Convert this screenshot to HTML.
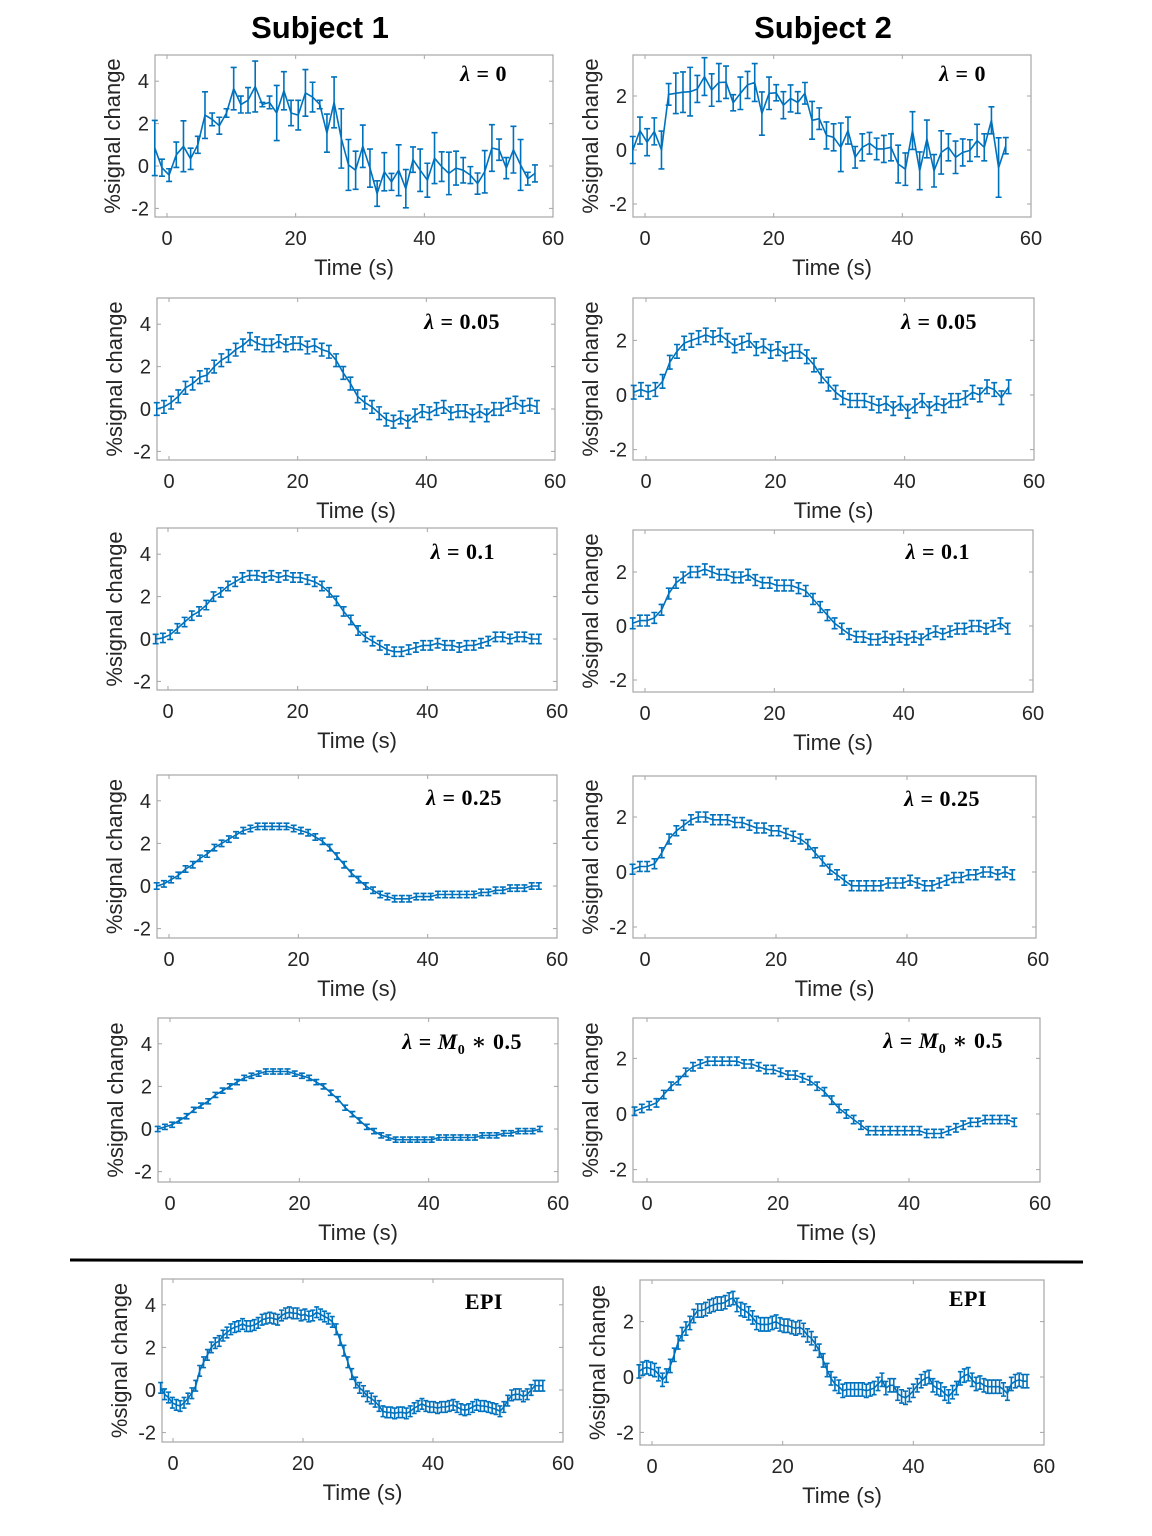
<!DOCTYPE html>
<html><head><meta charset="utf-8">
<style>
html,body{margin:0;padding:0;background:#fff;}
svg{display:block;}
text{font-family:"Liberation Sans",Arial,sans-serif;fill:#262626;}
.title{font-weight:bold;font-size:31px;fill:#000;}
.tick{font-size:20px;}
.xl{font-size:22px;}
.lam{font-family:"Liberation Serif","DejaVu Serif",serif;font-weight:bold;font-size:22px;fill:#000;letter-spacing:0.5px;}
</style></head>
<body>
<svg id="fig" width="1152" height="1536" viewBox="0 0 1152 1536">
<text class="title" x="320" y="38" text-anchor="middle">Subject 1</text>
<text class="title" x="823" y="38" text-anchor="middle">Subject 2</text>
<line x1="70" y1="1260" x2="1083" y2="1262" stroke="#000" stroke-width="3"/>
</svg>
<script>
// ---- data ----
const T0 = -1.9, DT = 1.115;
const epiT0L = -1.9, epiT0R = -2.0, epiDT = 0.6;
const lam0L = [0.85,-0.08,-0.43,0.53,0.93,0.34,1.0,2.4,2.2,1.9,2.5,3.65,2.9,3.1,3.75,2.9,3.0,2.5,3.55,2.5,2.4,3.45,3.25,2.9,1.55,3.0,1.3,0.05,-0.2,0.93,-0.1,-1.3,-0.27,-0.75,-0.2,-1.07,0.3,-0.2,-0.67,0.37,-0.03,-0.35,-0.1,-0.2,-0.43,-0.83,-0.27,0.85,0.77,-0.1,0.77,0.05,-0.6,-0.35];
const lam0LErr = [1.3,0.4,0.3,0.6,1.2,0.5,0.4,1.1,0.3,0.4,0.2,1.0,0.4,0.6,1.2,0.1,0.3,1.3,0.9,0.6,0.7,1.1,0.7,0.2,0.9,1.2,1.4,1.2,0.9,1.0,0.9,0.6,0.9,0.4,1.2,0.9,0.6,1.0,0.8,1.2,0.7,1.0,0.8,0.6,0.4,0.5,1.0,1.1,0.5,0.5,1.1,1.2,0.3,0.4];
const lam0R = [0,0.72,0.29,0.69,0,2.06,2.1,2.14,2.16,2.26,2.72,2.22,2.5,2.51,1.75,2.1,2.41,2.5,1.35,2.1,2.12,1.66,1.91,1.76,2.1,1.1,1.16,0.54,0.47,0.1,0.72,-0.27,0.1,0.25,0.04,0.04,0.1,-0.52,-0.71,0.72,-0.77,0.41,-0.77,-0.09,0.1,-0.27,-0.09,-0.02,0.35,0.1,1.1,-0.65,0.16];
const lam0RErr = [0.5,0.5,0.5,0.5,0.7,0.4,0.75,0.75,0.9,0.5,0.7,0.6,0.7,0.6,0.3,0.6,0.5,0.7,0.8,0.6,0.3,0.5,0.5,0.4,0.4,0.7,0.4,0.5,0.5,0.9,0.5,0.4,0.5,0.4,0.4,0.5,0.5,0.7,0.6,0.7,0.7,0.7,0.6,0.8,0.5,0.6,0.5,0.4,0.6,0.5,0.5,1.1,0.3];
const lam005L = [0.0,0.1,0.3,0.6,1.0,1.2,1.5,1.6,2.0,2.3,2.5,2.8,3.0,3.3,3.1,3.0,3.0,3.2,3.0,3.1,3.1,2.9,3.0,2.8,2.7,2.3,1.7,1.2,0.6,0.3,0.1,-0.2,-0.5,-0.6,-0.4,-0.6,-0.3,-0.1,-0.2,0.0,0.1,-0.2,-0.1,-0.1,-0.3,-0.1,-0.3,0.0,0.0,0.2,0.3,0.1,0.2,0.1];
const lam005R = [0.1,0.2,0.1,0.2,0.5,1.2,1.6,1.9,2.0,2.1,2.2,2.1,2.2,2.0,1.8,1.9,2.0,1.7,1.8,1.6,1.7,1.5,1.6,1.6,1.4,1.1,0.7,0.4,0.1,-0.1,-0.2,-0.2,-0.2,-0.3,-0.4,-0.3,-0.5,-0.3,-0.6,-0.4,-0.2,-0.5,-0.3,-0.4,-0.2,-0.2,-0.1,0.1,0.0,0.3,0.2,-0.1,0.3];
const lam01L = [0,0.05,0.2,0.5,0.8,1.1,1.3,1.6,2.0,2.2,2.5,2.7,2.9,3.0,3.0,2.9,3.0,2.9,3.0,2.9,2.9,2.8,2.7,2.5,2.2,1.8,1.3,0.9,0.4,0.1,-0.1,-0.3,-0.5,-0.6,-0.6,-0.5,-0.4,-0.3,-0.3,-0.2,-0.3,-0.3,-0.4,-0.3,-0.3,-0.2,-0.1,0.1,0.1,0.0,0.1,0.1,0.0,0.0];
const lam01R = [0.1,0.2,0.2,0.3,0.6,1.2,1.6,1.8,2.0,2.0,2.1,2.0,1.9,1.9,1.8,1.8,1.9,1.7,1.6,1.6,1.5,1.5,1.5,1.4,1.3,1.0,0.7,0.4,0.1,-0.1,-0.3,-0.4,-0.4,-0.5,-0.5,-0.4,-0.5,-0.4,-0.5,-0.4,-0.5,-0.3,-0.2,-0.3,-0.2,-0.1,-0.1,0.0,0.0,-0.1,0.0,0.1,-0.1];
const lam025L = [0,0.1,0.3,0.5,0.8,1.0,1.3,1.5,1.8,2.0,2.2,2.4,2.6,2.7,2.8,2.8,2.8,2.8,2.8,2.7,2.6,2.5,2.3,2.1,1.8,1.4,1.0,0.6,0.3,0.0,-0.2,-0.4,-0.5,-0.6,-0.6,-0.6,-0.5,-0.5,-0.5,-0.4,-0.4,-0.4,-0.4,-0.4,-0.4,-0.3,-0.3,-0.2,-0.2,-0.1,-0.1,-0.1,0.0,0.0];
const lam025R = [0.1,0.2,0.2,0.3,0.7,1.2,1.5,1.7,1.9,2.0,2.0,1.9,1.9,1.9,1.8,1.8,1.7,1.6,1.6,1.5,1.5,1.4,1.3,1.2,1.0,0.7,0.4,0.1,-0.1,-0.3,-0.5,-0.5,-0.5,-0.5,-0.5,-0.4,-0.4,-0.4,-0.3,-0.4,-0.5,-0.5,-0.4,-0.3,-0.2,-0.2,-0.1,-0.1,0.0,0.0,-0.1,0.0,-0.1];
const lamM0L = [0,0.1,0.2,0.4,0.6,0.9,1.1,1.3,1.6,1.8,2.0,2.2,2.4,2.5,2.6,2.7,2.7,2.7,2.7,2.6,2.5,2.4,2.2,2.0,1.7,1.4,1.0,0.7,0.4,0.1,-0.1,-0.3,-0.4,-0.5,-0.5,-0.5,-0.5,-0.5,-0.5,-0.4,-0.4,-0.4,-0.4,-0.4,-0.4,-0.3,-0.3,-0.3,-0.2,-0.2,-0.1,-0.1,-0.1,0.0];
const lamM0R = [0.1,0.2,0.3,0.4,0.7,1.0,1.2,1.5,1.7,1.8,1.9,1.9,1.9,1.9,1.9,1.8,1.8,1.7,1.6,1.6,1.5,1.4,1.4,1.3,1.2,1.0,0.8,0.5,0.2,0.0,-0.2,-0.4,-0.6,-0.6,-0.6,-0.6,-0.6,-0.6,-0.6,-0.6,-0.7,-0.7,-0.7,-0.6,-0.5,-0.4,-0.3,-0.3,-0.2,-0.2,-0.2,-0.2,-0.3];
const epiL = [0.1,-0.2,-0.35,-0.6,-0.7,-0.75,-0.6,-0.4,-0.15,0.2,0.9,1.3,1.65,2.0,2.2,2.3,2.55,2.7,2.85,2.95,3.0,3.1,3.0,3.0,3.05,3.15,3.3,3.35,3.4,3.35,3.3,3.5,3.6,3.65,3.6,3.6,3.5,3.55,3.45,3.5,3.65,3.55,3.45,3.35,3.2,2.85,2.35,1.85,1.3,0.75,0.35,0.1,-0.05,-0.3,-0.4,-0.55,-0.75,-1.0,-1.05,-1.05,-1.1,-1.05,-1.05,-1.1,-1.0,-0.85,-0.75,-0.65,-0.75,-0.8,-0.8,-0.85,-0.8,-0.8,-0.75,-0.7,-0.8,-0.9,-0.95,-0.9,-0.8,-0.7,-0.75,-0.75,-0.8,-0.85,-0.9,-1.0,-0.8,-0.5,-0.25,-0.2,-0.2,-0.3,-0.2,0.0,0.2,0.2,0.2];
const epiR = [0.2,0.3,0.35,0.3,0.25,0.1,-0.1,0.05,0.4,0.8,1.25,1.55,1.75,1.95,2.2,2.4,2.4,2.45,2.55,2.6,2.65,2.65,2.7,2.8,2.85,2.6,2.45,2.4,2.3,2.15,1.95,1.9,1.9,1.9,1.95,2.0,1.9,1.85,1.85,1.8,1.75,1.8,1.7,1.5,1.4,1.2,0.95,0.6,0.25,-0.05,-0.25,-0.35,-0.5,-0.45,-0.45,-0.45,-0.45,-0.45,-0.5,-0.45,-0.4,-0.25,-0.1,-0.4,-0.3,-0.3,-0.6,-0.7,-0.75,-0.65,-0.5,-0.3,-0.15,-0.05,0,-0.3,-0.4,-0.45,-0.6,-0.7,-0.55,-0.4,-0.05,0.05,0.1,-0.1,-0.25,-0.2,-0.3,-0.35,-0.35,-0.35,-0.35,-0.45,-0.6,-0.25,-0.15,-0.1,-0.15,-0.15];
const errScalar = {l005L:0.3,l005R:0.25,l01L:0.22,l01R:0.2,l025L:0.15,l025R:0.18,m0L:0.12,m0R:0.15,epiL:0.25,epiR:0.24};
const xTicks = [0,20,40,60];
const yTicksL = [-2,0,2,4];
const yTicksR = [-2,0,2];

// ---- layout ----
const panels = [
 {id:'p1l',vals:lam0L,err:lam0LErr,t0:T0,dt:DT,box:[155,55,553,217],x0:167,x60:553,y0:166,yu:21.2,yt:yTicksL,lab:'0',lx:507,ly:81},
 {id:'p1r',vals:lam0R,err:lam0RErr,t0:T0,dt:DT,box:[633,55,1031,217],x0:645,x60:1031,y0:150,yu:27,yt:yTicksR,lab:'0',lx:986,ly:81},
 {id:'p2l',vals:lam005L,err:errScalar.l005L,t0:T0,dt:DT,box:[157,298,555,460],x0:169,x60:555,y0:409,yu:21.2,yt:yTicksL,lab:'0.05',lx:500,ly:329},
 {id:'p2r',vals:lam005R,err:errScalar.l005R,t0:T0,dt:DT,box:[633,298,1034,460],x0:646,x60:1034,y0:395,yu:27.3,yt:yTicksR,lab:'0.05',lx:977,ly:329},
 {id:'p3l',vals:lam01L,err:errScalar.l01L,t0:T0,dt:DT,box:[157,528,557,690],x0:168,x60:557,y0:639,yu:21.2,yt:yTicksL,lab:'0.1',lx:495,ly:559},
 {id:'p3r',vals:lam01R,err:errScalar.l01R,t0:T0,dt:DT,box:[633,530,1033,692],x0:645,x60:1033,y0:626,yu:27,yt:yTicksR,lab:'0.1',lx:970,ly:559},
 {id:'p4l',vals:lam025L,err:errScalar.l025L,t0:T0,dt:DT,box:[157,775,557,938],x0:169,x60:557,y0:886,yu:21.3,yt:yTicksL,lab:'0.25',lx:502,ly:805},
 {id:'p4r',vals:lam025R,err:errScalar.l025R,t0:T0,dt:DT,box:[633,776,1036,938],x0:645,x60:1038,y0:872,yu:27.5,yt:yTicksR,lab:'0.25',lx:980,ly:806},
 {id:'p5l',vals:lamM0L,err:errScalar.m0L,t0:T0,dt:DT,box:[158,1018,558,1182],x0:170,x60:558,y0:1129,yu:21.3,yt:yTicksL,lab:'M0',lx:522,ly:1049},
 {id:'p5r',vals:lamM0R,err:errScalar.m0R,t0:T0,dt:DT,box:[633,1018,1040,1182],x0:647,x60:1040,y0:1114,yu:27.8,yt:yTicksR,lab:'M0',lx:1003,ly:1048},
 {id:'p6l',vals:epiL,err:errScalar.epiL,t0:epiT0L,dt:epiDT,box:[162,1279,563,1442],x0:173,x60:563,y0:1390,yu:21.3,yt:yTicksL,lab:'EPI',lx:503,ly:1309},
 {id:'p6r',vals:epiR,err:errScalar.epiR,t0:epiT0R,dt:epiDT,box:[640,1280,1044,1445],x0:652,x60:1044,y0:1377,yu:27.7,yt:yTicksR,lab:'EPI',lx:987,ly:1306}
];
const NS='http://www.w3.org/2000/svg';
const svg=document.getElementById('fig');
function mk(tag,attrs,parent){const e=document.createElementNS(NS,tag);for(const k in attrs)e.setAttribute(k,attrs[k]);(parent||svg).appendChild(e);return e;}
const BLUE='#0072BD';
panels.forEach(p=>{
  const g=mk('g',{});
  
  
  const [l,t,r,b]=p.box;
  const xs=v=>p.x0+(p.x60-p.x0)*v/60;
  const ys=v=>p.y0-v*p.yu;
  const frame=mk('rect',{x:l,y:t,width:r-l,height:b-t,fill:'#fff',stroke:'#a6a6a6','stroke-width':1.2},g);
  
  
  xTicks.forEach(v=>{
    const x=xs(v);
    if(x>=l-0.5&&x<=r+0.5){
      mk('line',{x1:x,y1:b,x2:x,y2:b-4,stroke:'#a6a6a6'},g);
      mk('line',{x1:x,y1:t,x2:x,y2:t+4,stroke:'#a6a6a6'},g);
    }
    const tx=mk('text',{x:x,y:b+28,'text-anchor':'middle',class:'tick'},g);
    tx.textContent=v;
    
    
  });
  p.yt.forEach(v=>{
    const y=ys(v);
    mk('line',{x1:l,y1:y,x2:l+4,y2:y,stroke:'#a6a6a6'},g);
    mk('line',{x1:r,y1:y,x2:r-4,y2:y,stroke:'#a6a6a6'},g);
    const ty=mk('text',{x:l-6,y:y+7,'text-anchor':'end',class:'tick'},g);
    ty.textContent=v;
    
    
  });
  const xl=mk('text',{x:(l+r)/2,y:b+58,'text-anchor':'middle',class:'xl'},g);
  xl.textContent='Time (s)';
  
  
  const cy=(t+b)/2, cx=l-35;
  const yl=mk('text',{x:cx,y:cy,'text-anchor':'middle',class:'xl',transform:`rotate(-90 ${cx} ${cy})`},g);
  yl.textContent='%signal change';
  
  
  let d='';
  const eg=mk('g',{stroke:BLUE,'stroke-width':1.6,fill:'none'},g);
  
  
  const cap = p.dt<1?2.5:3;
  p.vals.forEach((v,i)=>{
    const tt=p.t0+i*p.dt;
    const x=xs(tt), y=ys(v);
    d+=(i?'L':'M')+x.toFixed(1)+' '+y.toFixed(1);
    const e=Array.isArray(p.err)?p.err[i]:p.err;
    const y1=ys(v+e), y2=ys(v-e);
    mk('path',{d:`M${x} ${y1}V${y2}M${x-cap} ${y1}H${x+cap}M${x-cap} ${y2}H${x+cap}`},eg);
  });
  const line=mk('path',{d:d,stroke:BLUE,'stroke-width':1.6,fill:'none','stroke-linejoin':'round'},g);
  
  
  const lt=mk('text',{x:p.lx,y:p.ly,'text-anchor':'end',class:'lam'},g);
  
  
  if(p.lab==='EPI'){lt.textContent='EPI';}
  else if(p.lab==='M0'){
    lt.innerHTML='<tspan font-style="italic">λ</tspan> = <tspan font-style="italic">M</tspan><tspan font-size="14" dy="5">0</tspan><tspan dy="-5"> ∗ 0.5</tspan>';
  } else {
    lt.innerHTML='<tspan font-style="italic">λ</tspan> = '+p.lab;
  }
});
</script>
</body></html>
